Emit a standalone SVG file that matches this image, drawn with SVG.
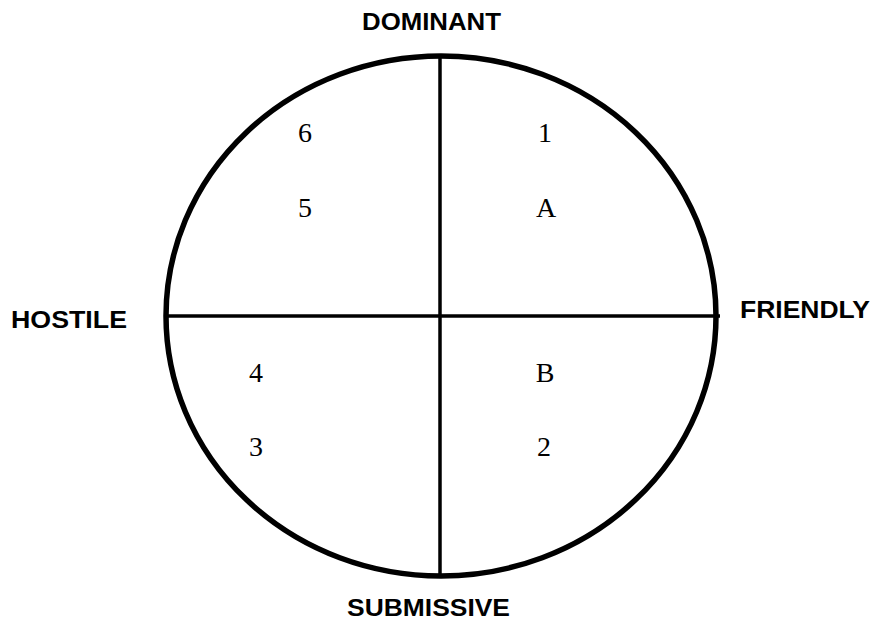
<svg xmlns="http://www.w3.org/2000/svg" width="877" height="626" viewBox="0 0 877 626">
<style>
.axis{font-family:"Liberation Sans",Arial,sans-serif;font-weight:bold;font-size:23.5px;fill:#000}
.item{font-family:"Liberation Serif","DejaVu Serif",serif;font-size:28px;fill:#000;text-anchor:middle}
.ln{stroke:#000;fill:none}
</style>
<rect width="877" height="626" fill="#fff"/>
<g id="circle">
<ellipse class="ln" cx="441" cy="316" rx="275" ry="260" stroke-width="5.5"/>
</g>
<g id="connectors">
<line class="ln" x1="166" y1="316" x2="720" y2="316" stroke-width="3.5"/>
<line class="ln" x1="440" y1="56" x2="440" y2="576" stroke-width="3.5"/>
</g>
<g id="dominant"><text class="axis" x="362" y="30" textLength="139" lengthAdjust="spacingAndGlyphs">DOMINANT</text></g>
<g id="hostile"><text class="axis" x="11" y="328" textLength="116" lengthAdjust="spacingAndGlyphs">HOSTILE</text></g>
<g id="friendly"><text class="axis" x="740" y="318" textLength="130" lengthAdjust="spacingAndGlyphs">FRIENDLY</text></g>
<g id="submissive"><text class="axis" x="347" y="616" textLength="163" lengthAdjust="spacingAndGlyphs">SUBMISSIVE</text></g>
<g id="item-6"><text class="item" x="305" y="142">6</text></g>
<g id="item-5"><text class="item" x="305" y="217">5</text></g>
<g id="item-1"><text class="item" x="545" y="142">1</text></g>
<g id="item-A"><text class="item" x="546" y="217">A</text></g>
<g id="item-4"><text class="item" x="256" y="382">4</text></g>
<g id="item-3"><text class="item" x="256" y="456">3</text></g>
<g id="item-B"><text class="item" x="545" y="382">B</text></g>
<g id="item-2"><text class="item" x="544" y="456">2</text></g>
</svg>
